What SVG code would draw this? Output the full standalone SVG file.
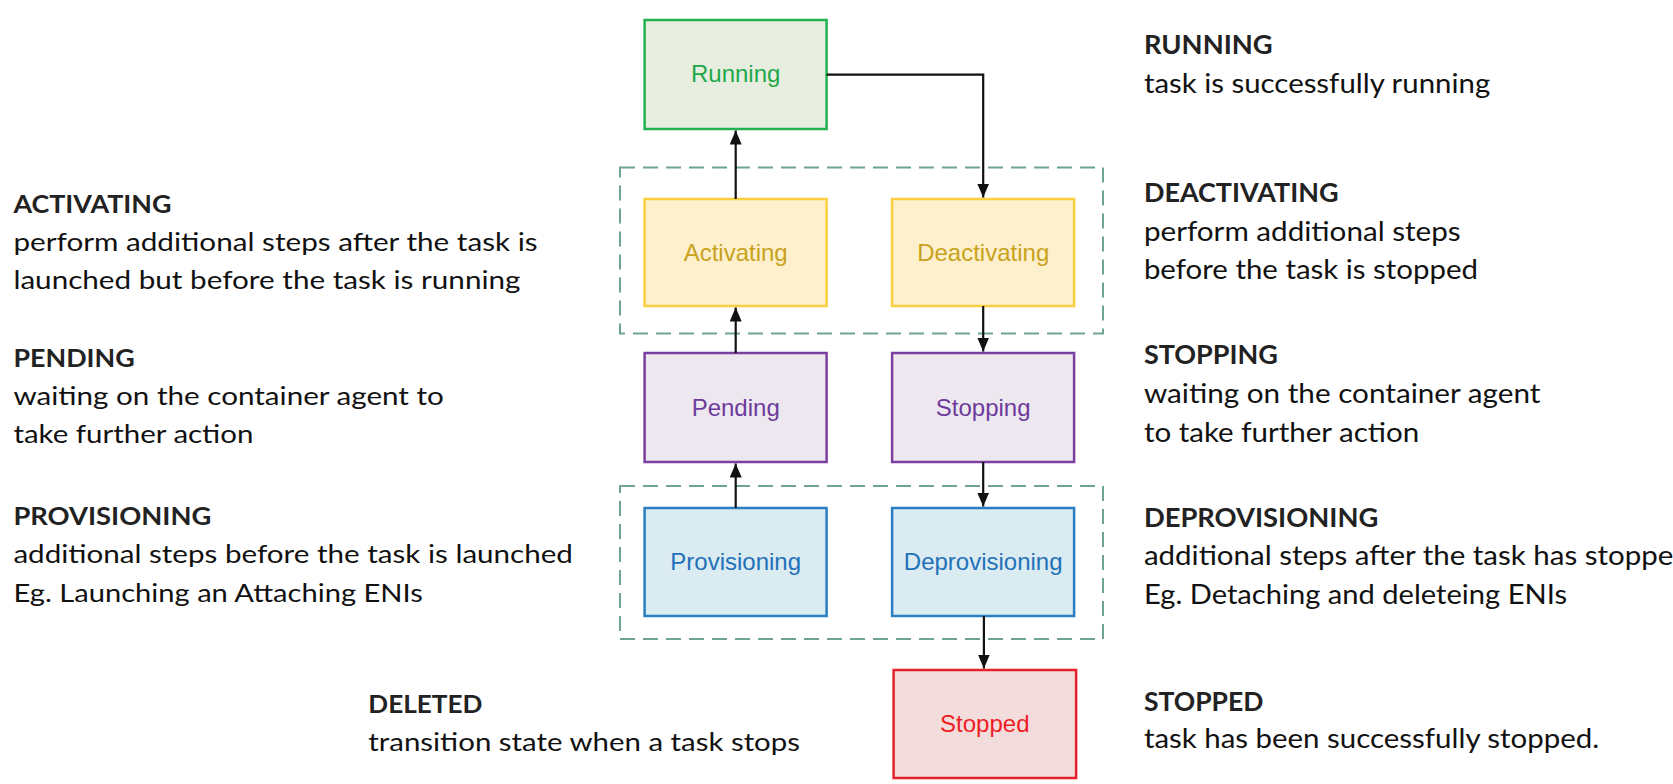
<svg xmlns="http://www.w3.org/2000/svg" width="1673" height="784" viewBox="0 0 1673 784">
<style>
.box{stroke-width:2.5}
.lbl{font-family:"Liberation Sans",Arial,sans-serif;font-size:24px;text-anchor:middle}
.grp{fill:none;stroke:#6fa394;stroke-width:2;stroke-dasharray:15 8}
.con{fill:none;stroke:#111;stroke-width:2.2}
.h{font-family:Lato,"Open Sans",sans-serif;font-weight:bold;fill:#222}
.b{font-family:Lato,"Open Sans",sans-serif;fill:#111}
.l{font-size:25.5px}
.r{font-size:26px}
</style>
<defs>
<marker id="ah" viewBox="0 0 14 12" refX="14" refY="6" markerWidth="14" markerHeight="12" orient="auto" markerUnits="userSpaceOnUse">
<path d="M0,0 L14,6 L0,12 z" fill="#111"/>
</marker>
</defs>
<rect width="1673" height="784" fill="#fff"/>

<g id="groups">
<rect class="grp" x="620" y="167.5" width="483" height="166"/>
<rect class="grp" x="620" y="486" width="483" height="153"/>
</g>

<g id="node-running">
<rect class="box" x="644.6" y="20" width="182" height="109" fill="#e7eedf" stroke="#21b14f"/>
<text class="lbl" x="735.7" y="82" fill="#1fa84a">Running</text>
</g>
<g id="node-activating">
<rect class="box" x="644.6" y="199" width="182" height="107" fill="#fef0cc" stroke="#fccf3e"/>
<text class="lbl" x="735.7" y="261" fill="#c8a21c">Activating</text>
</g>
<g id="node-deactivating">
<rect class="box" x="892.1" y="199" width="182" height="107" fill="#fef0cc" stroke="#fccf3e"/>
<text class="lbl" x="983.2" y="261" fill="#c8a21c">Deactivating</text>
</g>
<g id="node-pending">
<rect class="box" x="644.6" y="353" width="182" height="109" fill="#ede8f0" stroke="#7b3fa0"/>
<text class="lbl" x="735.7" y="416" fill="#6d3a9c">Pending</text>
</g>
<g id="node-stopping">
<rect class="box" x="892.1" y="353" width="182" height="109" fill="#ede8f0" stroke="#7b3fa0"/>
<text class="lbl" x="983.2" y="416" fill="#6d3a9c">Stopping</text>
</g>
<g id="node-provisioning">
<rect class="box" x="644.6" y="508" width="182" height="108" fill="#dbebf2" stroke="#2a7fc2"/>
<text class="lbl" x="735.7" y="570" fill="#2271b8">Provisioning</text>
</g>
<g id="node-deprovisioning">
<rect class="box" x="892.1" y="508" width="182" height="108" fill="#dbebf2" stroke="#2a7fc2"/>
<text class="lbl" x="983.2" y="570" fill="#2271b8">Deprovisioning</text>
</g>
<g id="node-stopped">
<rect class="box" x="893.6" y="670" width="182.5" height="108" fill="#f3dcdc" stroke="#e62129"/>
<text class="lbl" x="984.8" y="732" fill="#ee1c25">Stopped</text>
</g>

<g id="connectors">
<path class="con" d="M735.7,199 V130.5" marker-end="url(#ah)"/>
<path class="con" d="M735.7,353 V307.5" marker-end="url(#ah)"/>
<path class="con" d="M735.7,508 V463.5" marker-end="url(#ah)"/>
<path class="con" d="M826.6,74.7 H983.2 V197.5" marker-end="url(#ah)"/>
<path class="con" d="M983.2,306 V351.5" marker-end="url(#ah)"/>
<path class="con" d="M983.2,462 V506.5" marker-end="url(#ah)"/>
<path class="con" d="M983.9,616 V668.5" marker-end="url(#ah)"/>
</g>

<g id="desc-left">
<text class="h l" x="13.4" y="213" textLength="158" lengthAdjust="spacingAndGlyphs">ACTIVATING</text>
<text class="b l" x="13.4" y="251" textLength="524.3" lengthAdjust="spacingAndGlyphs">perform additional steps after the task is</text>
<text class="b l" x="13.4" y="288.5" textLength="507.1" lengthAdjust="spacingAndGlyphs">launched but before the task is running</text>
<text class="h l" x="13.4" y="366.5" textLength="121.3" lengthAdjust="spacingAndGlyphs">PENDING</text>
<text class="b l" x="13.4" y="405" textLength="430.5" lengthAdjust="spacingAndGlyphs">waiting on the container agent to</text>
<text class="b l" x="13.4" y="443" textLength="240" lengthAdjust="spacingAndGlyphs">take further action</text>
<text class="h l" x="13.4" y="525" textLength="197.9" lengthAdjust="spacingAndGlyphs">PROVISIONING</text>
<text class="b l" x="13.4" y="563.3" textLength="559.5" lengthAdjust="spacingAndGlyphs">additional steps before the task is launched</text>
<text class="b l" x="13.4" y="601.5" textLength="409.5" lengthAdjust="spacingAndGlyphs">Eg. Launching an Attaching ENIs</text>
<text class="h l" x="368.3" y="713.3" textLength="114" lengthAdjust="spacingAndGlyphs">DELETED</text>
<text class="b l" x="368.3" y="751" textLength="431.7" lengthAdjust="spacingAndGlyphs">transition state when a task stops</text>
</g>

<g id="desc-right">
<text class="h r" x="1143.9" y="54.4" textLength="128.8" lengthAdjust="spacingAndGlyphs">RUNNING</text>
<text class="b r" x="1143.9" y="92.7" textLength="346.3" lengthAdjust="spacingAndGlyphs">task is successfully running</text>
<text class="h r" x="1143.9" y="201.8" textLength="194.6" lengthAdjust="spacingAndGlyphs">DEACTIVATING</text>
<text class="b r" x="1143.9" y="240.8" textLength="316.8" lengthAdjust="spacingAndGlyphs">perform additional steps</text>
<text class="b r" x="1143.9" y="279.1" textLength="334.1" lengthAdjust="spacingAndGlyphs">before the task is stopped</text>
<text class="h r" x="1143.9" y="364.4" textLength="134" lengthAdjust="spacingAndGlyphs">STOPPING</text>
<text class="b r" x="1143.9" y="402.7" textLength="396.5" lengthAdjust="spacingAndGlyphs">waiting on the container agent</text>
<text class="b r" x="1143.9" y="442.1" textLength="275.3" lengthAdjust="spacingAndGlyphs">to take further action</text>
<text class="h r" x="1143.9" y="527.1" textLength="234.4" lengthAdjust="spacingAndGlyphs">DEPROVISIONING</text>
<text class="b r" x="1143.9" y="565.3" textLength="546" lengthAdjust="spacingAndGlyphs">additional steps after the task has stopped</text>
<text class="b r" x="1143.9" y="603.6" textLength="423.1" lengthAdjust="spacingAndGlyphs">Eg. Detaching and deleteing ENIs</text>
<text class="h r" x="1143.9" y="710.7" textLength="119.5" lengthAdjust="spacingAndGlyphs">STOPPED</text>
<text class="b r" x="1143.9" y="748.3" textLength="455.3" lengthAdjust="spacingAndGlyphs">task has been successfully stopped.</text>
</g>
</svg>
